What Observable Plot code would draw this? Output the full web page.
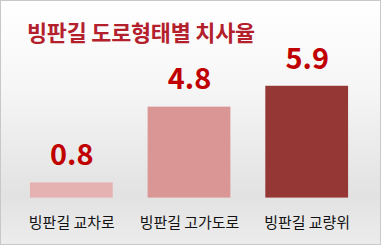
<!DOCTYPE html>
<html><head><meta charset="utf-8">
<script src="https://cdn.jsdelivr.net/npm/d3@7"></script>
<script src="https://cdn.jsdelivr.net/npm/@observablehq/plot@0.6"></script>
<style>
body{margin:0;background:#fff;}
#wrap{position:relative;width:381px;height:245px;box-sizing:border-box;border:1px solid #c8c8c8;
background:linear-gradient(180deg,#ffffff 0%,#f6f6f6 35%,#e2e2e2 80%,#ececec 100%);overflow:hidden;
font-family:"Noto Sans CJK KR","Noto Sans",sans-serif;}
#title{position:absolute;left:26px;top:15px;font-size:21.8px;font-weight:700;color:#b3202c;letter-spacing:-0.2px;white-space:nowrap;}
#chart{position:absolute;left:-1px;top:39px;}
</style></head>
<body><div id="wrap"><div id="title">빙판길 도로형태별 치사율</div><div id="chart"></div></div>
<script>
const categories = ["빙판길 교차로", "빙판길 고가도로", "빙판길 교량위"];
const values = [0.8, 4.8, 5.9];
const colors = ["#e6b1b1", "#d99694", "#953735"];
const labels = ["0.8", "4.8", "5.9"];
const data = categories.map((c, i) => ({cat: c, v: values[i], color: colors[i], label: labels[i]}));

const chart = Plot.plot({
  width: 381, height: 206,
  marginLeft: 29, marginRight: 30, marginTop: 44, marginBottom: 48,
  style: {background: "transparent", fontFamily: "'Noto Sans CJK KR', sans-serif", overflow: "visible"},
  x: {domain: categories, paddingInner: 0.294, paddingOuter: 0, label: null},
  y: {domain: [0, 6], axis: null},
  marks: [
    Plot.barY(data, {x: "cat", y: "v", fill: "color", style: {filter: "drop-shadow(7px 0px 3px rgba(0,0,0,0.18))"}}),
    Plot.text(data, {x: "cat", y: "v", text: "label", dy: -27, fill: "#c00000", fontSize: 29, fontWeight: "bold", fontFamily: "'Noto Sans CJK KR', sans-serif"}),
    Plot.axisX({tickSize: 0, tickPadding: 19, fontSize: 15, color: "#111", label: null})
  ]
});
document.getElementById("chart").appendChild(chart);
</script></body></html>
